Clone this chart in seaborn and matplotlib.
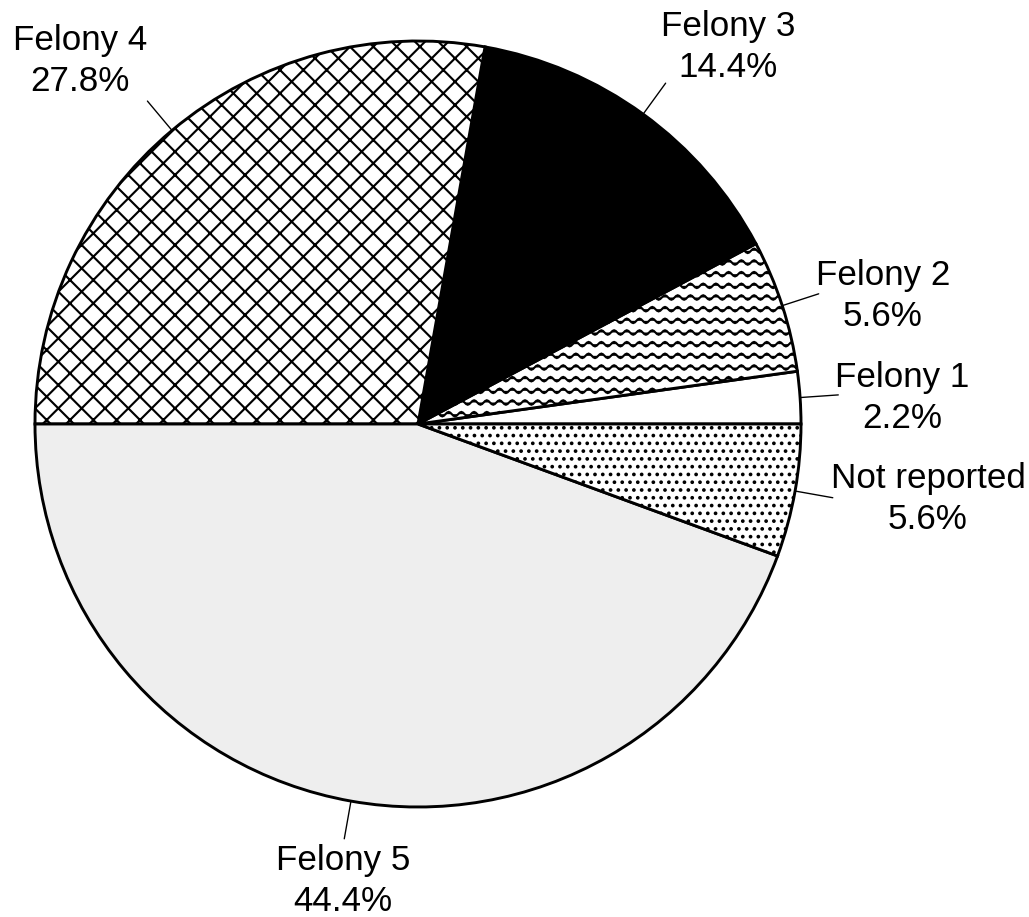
import numpy as np
import matplotlib
matplotlib.use("Agg")
import matplotlib.pyplot as plt
import matplotlib.hatch as mhatch
import seaborn as sns

# --- data ---
categories = ['Felony 1', 'Felony 2', 'Felony 3', 'Felony 4', 'Felony 5', 'Not reported']
shares = [2.2, 5.6, 14.4, 27.8, 44.4, 5.6]


# wavy version of the '-' hatch, the original chart uses wavy lines for Felony 2
class WavyHatch(mhatch.HatchPatternBase):
    def __init__(self, hatch, density):
        self.num_lines = int(hatch.count('-') * density)
        self.steps = 88
        self.num_vertices = self.num_lines * (self.steps + 1)

    def set_vertices_and_codes(self, vertices, codes):
        xs = np.linspace(0.0, 1.0, self.steps + 1)
        wave = 0.016 * np.sin(2 * np.pi * 11 * xs)
        n = self.steps + 1
        for i in range(self.num_lines):
            y0 = (i + 0.5) / self.num_lines
            vertices[i * n:(i + 1) * n, 0] = xs
            vertices[i * n:(i + 1) * n, 1] = y0 + wave
            codes[i * n] = mhatch.Path.MOVETO
            codes[i * n + 1:(i + 1) * n] = mhatch.Path.LINETO


mhatch._hatch_types[:] = [WavyHatch if t is mhatch.HorizontalHatch else t
                          for t in mhatch._hatch_types]

# --- style ---
sns.set_theme(style='white')
plt.rcParams['font.family'] = ['Liberation Sans', 'DejaVu Sans']
plt.rcParams['hatch.linewidth'] = 1.1

face_colors = ['white', 'white', 'black', 'white', '#eeeeee', 'white']
hatches = ['', '--', '', 'xx', '', '...']

# label block centres in pixel coordinates (layout only)
label_xy = [(902, 398), (883, 296), (728, 47), (80, 61), (343, 881), (928, 499)]

W, H = 1029, 917
DPI = 140
fig = plt.figure(figsize=(W / DPI, H / DPI), dpi=DPI)
ax = fig.add_axes([0, 0, 1, 1])

cx, cy, r = 418, H - 424, 383
wedges, _ = ax.pie(shares, center=(cx, cy), radius=r, startangle=0,
                   counterclock=True, colors=face_colors,
                   wedgeprops=dict(edgecolor='black', linewidth=1.5))
for w, h in zip(wedges, hatches):
    w.set_hatch(h)

# pie() resets the limits, so fix the pixel frame afterwards
ax.set_xlim(0, W)
ax.set_ylim(0, H)
ax.set_aspect('equal')
ax.axis('off')

# labels with radial leader lines at the wedge midpoints
for w, name, val, (tx, ty) in zip(wedges, categories, shares, label_xy):
    mid = np.deg2rad((w.theta1 + w.theta2) / 2)
    x0, y0 = cx + r * np.cos(mid), cy + r * np.sin(mid)
    x1, y1 = cx + 1.1 * r * np.cos(mid), cy + 1.1 * r * np.sin(mid)
    ax.plot([x0, x1], [y0, y1], color='black', linewidth=0.7)
    ax.text(tx, H - ty, f'{name}\n{val:.1f}%', ha='center', va='center',
            multialignment='center', fontsize=18, linespacing=1.3, color='black')

fig.savefig('out.png', dpi=DPI, facecolor='white')
